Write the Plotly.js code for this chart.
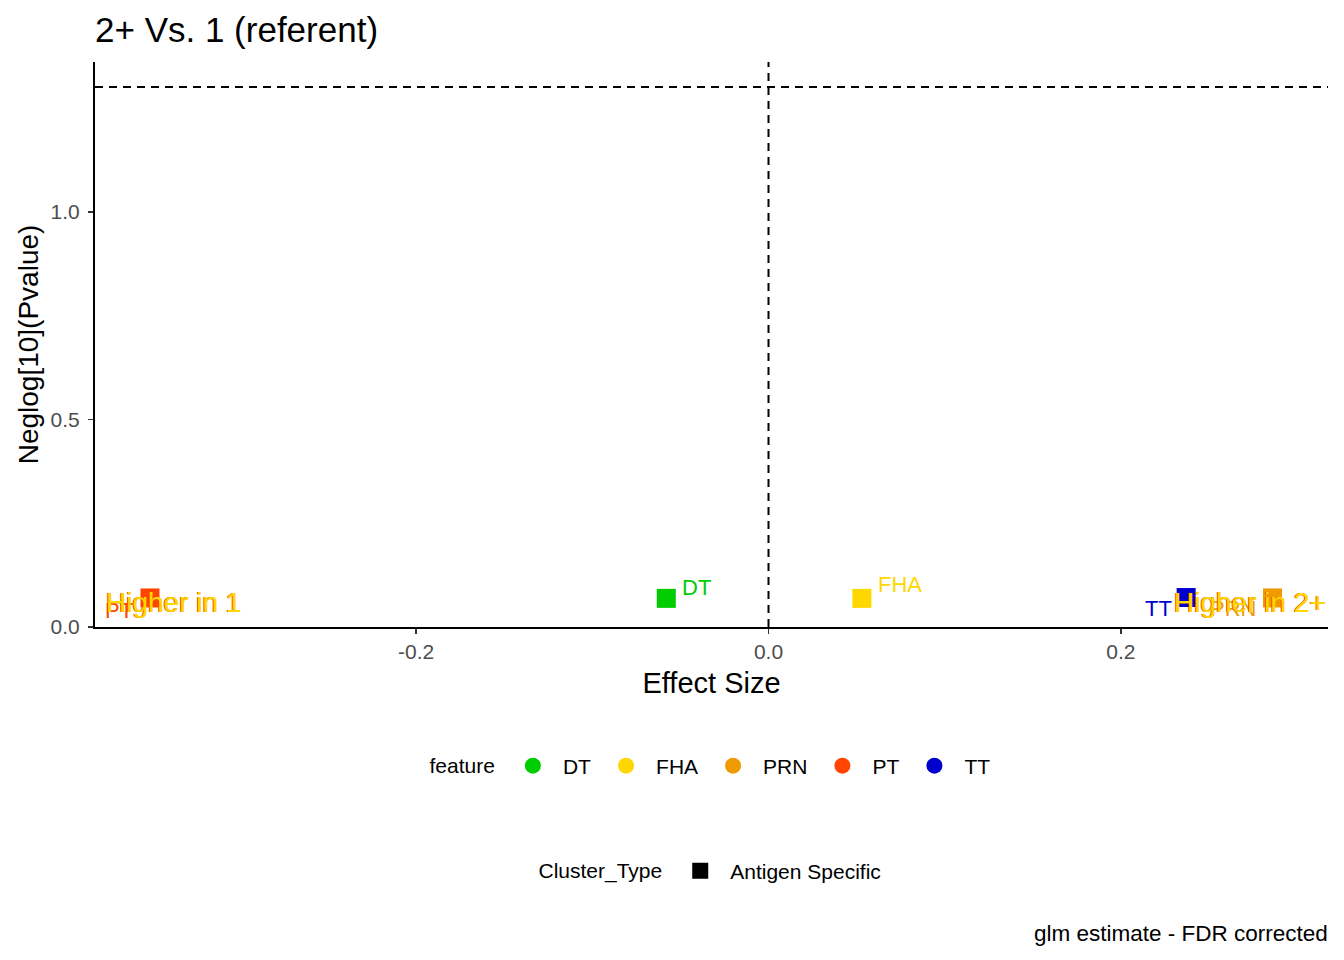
<!DOCTYPE html>
<html>
<head>
<meta charset="utf-8">
<script src="https://cdn.plot.ly/plotly-3.0.1.min.js"></script>
<style>
  html, body { margin: 0; padding: 0; background: #ffffff; }
  #plot { width: 1344px; height: 960px; }
</style>
</head>
<body>
<div id="plot"></div>
<script>
// values
const features = ['DT', 'FHA', 'PRN', 'PT', 'TT'];
const featureColors = ['#00CD00', '#FFD700', '#EE9A00', '#FF4500', '#0000CD'];
const effectSize = [-0.058, 0.053, 0.286, -0.351, 0.237];
const neglogP = [0.069, 0.069, 0.070, 0.070, 0.071];

// repelled label offsets (px) relative to each point
const labelAnchor = ['left', 'left', 'right', 'right', 'right'];
const labelDx = [14, 14, -14, -15, -12];
const labelDy = [11, 14, -11, -13, -11];

const clusterTypes = ['Antigen Specific'];
const xTickVals = [-0.2, 0.0, 0.2];
const xTickText = ['-0.2', '0.0', '0.2'];
const yTickVals = [0, 0.5, 1.0];
const yTickText = ['0.0', '0.5', '1.0'];

const xRange = [-0.3822, 0.3175];
const yRange = [0, 1.361];
const sigLine = -Math.log10(0.05);

const FONT = '"Liberation Sans", Arial, sans-serif';

function buildData() {
  const traces = [];
  // the actual points, one trace per feature
  features.forEach((f, i) => {
    traces.push({
      x: [effectSize[i]],
      y: [neglogP[i]],
      mode: 'markers',
      name: f,
      marker: { symbol: 'square', size: 19, color: featureColors[i] },
      cliponaxis: false,
      showlegend: false,
      hoverinfo: 'skip',
    });
  });
  // legend entries: feature as circles
  features.forEach((f, i) => {
    traces.push({
      x: [null],
      y: [null],
      mode: 'markers',
      name: f,
      marker: { symbol: 'circle', size: 18, color: featureColors[i] },
      legend: 'legend',
      showlegend: true,
    });
  });
  // legend entries: Cluster_Type as black square
  clusterTypes.forEach(c => {
    traces.push({
      x: [null],
      y: [null],
      mode: 'markers',
      name: c,
      marker: { symbol: 'square', size: 18, color: '#000000' },
      legend: 'legend2',
      showlegend: true,
    });
  });
  return traces;
}

function pointLabels() {
  return features.map((f, i) => ({
    x: effectSize[i],
    y: neglogP[i],
    xref: 'x',
    yref: 'y',
    text: f,
    showarrow: false,
    xanchor: labelAnchor[i],
    yanchor: 'middle',
    xshift: labelDx[i],
    yshift: labelDy[i],
    font: { family: FONT, size: 22, color: featureColors[i] },
  }));
}

function higherLabel(text, x, anchor) {
  // ggplot drew this once per feature, so it comes out as overlapping colours
  const colours = ['#FF4500', '#EE9A00', '#FFD700'];
  const shifts = [-1, -0.5, 0];
  return colours.map((c, k) => ({
    x: x,
    y: 0.058,
    xref: 'x',
    yref: 'y',
    text: text,
    showarrow: false,
    xanchor: anchor,
    yanchor: 'middle',
    xshift: shifts[k],
    font: { family: FONT, size: 28, color: c },
  }));
}

function buildLayout() {
  return {
    width: 1344,
    height: 960,
    margin: { l: 95, r: 16, t: 62, b: 333 },
    paper_bgcolor: '#ffffff',
    plot_bgcolor: '#ffffff',
    font: { family: FONT, color: '#000000' },
    hovermode: false,
    title: {
      text: '2+ Vs. 1 (referent)',
      font: { family: FONT, size: 35, color: '#000000' },
      xref: 'paper', x: 0, xanchor: 'left',
      yref: 'container', y: 1 - 30 / 960, yanchor: 'middle',
    },
    xaxis: {
      range: xRange,
      title: { text: 'Effect Size', font: { size: 29, color: '#000000' }, standoff: 10 },
      tickmode: 'array',
      tickvals: xTickVals,
      ticktext: xTickText,
      tickfont: { size: 21, color: '#4D4D4D' },
      ticks: 'outside',
      ticklen: 5,
      tickwidth: 1.5,
      tickcolor: '#333333',
      showline: true,
      linecolor: '#000000',
      linewidth: 2,
      showgrid: false,
      zeroline: false,
      automargin: false,
    },
    yaxis: {
      range: yRange,
      title: { text: 'Neglog[10](Pvalue)', font: { size: 28, color: '#000000' }, standoff: 4 },
      tickmode: 'array',
      tickvals: yTickVals,
      ticktext: yTickText,
      tickfont: { size: 21, color: '#4D4D4D' },
      ticks: 'outside',
      ticklen: 5,
      tickwidth: 1.5,
      tickcolor: '#333333',
      ticklabelstandoff: 4,
      showline: true,
      linecolor: '#000000',
      linewidth: 2,
      showgrid: false,
      zeroline: false,
      automargin: false,
    },
    shapes: [
      { type: 'line', xref: 'x', yref: 'paper', x0: 0, x1: 0, y0: 0, y1: 1,
        line: { color: '#000000', width: 2, dash: '8px,6px' } },
      { type: 'line', xref: 'paper', yref: 'y', x0: 0, x1: 1, y0: sigLine, y1: sigLine,
        line: { color: '#000000', width: 2, dash: '8px,6px' } },
    ],
    annotations: [
      ...pointLabels(),
      ...higherLabel('Higher in 1', -0.377, 'left'),
      ...higherLabel('Higher in 2+', xRange[1], 'right'),
      {
        text: 'glm estimate - FDR corrected',
        xref: 'paper', yref: 'paper', x: 1, y: (627 - 933) / 565,
        xanchor: 'right', yanchor: 'middle', showarrow: false, xshift: 2,
        font: { family: FONT, size: 22.5, color: '#000000' },
      },
    ],
    showlegend: true,
    legend: {
      orientation: 'h',
      x: 0.5, xanchor: 'center',
      y: (627 - 766) / 565, yanchor: 'middle',
      title: { text: 'feature', side: 'left', font: { size: 21, color: '#000000' } },
      font: { size: 21, color: '#000000' },
      itemwidth: 50,
      bgcolor: 'rgba(0,0,0,0)',
      itemclick: false,
    },
    legend2: {
      orientation: 'h',
      x: 0.5, xanchor: 'center',
      y: (627 - 871) / 565, yanchor: 'middle',
      title: { text: 'Cluster_Type', side: 'left', font: { size: 21, color: '#000000' } },
      font: { size: 21, color: '#000000' },
      itemwidth: 50,
      bgcolor: 'rgba(0,0,0,0)',
      itemclick: false,
    },
  };
}

Plotly.newPlot('plot', buildData(), buildLayout(), { displayModeBar: false, staticPlot: true });
</script>
</body>
</html>
